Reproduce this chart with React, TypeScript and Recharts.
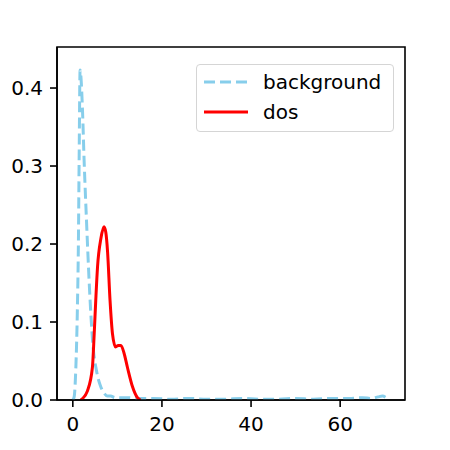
import { LineChart, Line, XAxis, YAxis, ReferenceArea } from "recharts";

// values
const backgroundX = [0, 0.3, 0.67, 1.0, 1.25, 1.42, 1.63, 2.17, 2.53, 3.07, 3.65, 4.03, 4.55, 5.3, 6.27, 7.0, 7.77, 8.5, 9.5, 12, 15, 18, 22, 26, 30, 34, 38, 42, 46, 50, 54, 58, 62, 65, 67, 68.5, 69.5, 70.3, 71];
const backgroundY = [0, 0.004, 0.04, 0.11, 0.2, 0.31, 0.423, 0.372, 0.308, 0.23, 0.154, 0.112, 0.068, 0.038, 0.017, 0.009, 0.005, 0.005, 0.003, 0.003, 0.002, 0.002, 0.001, 0.002, 0.001, 0.001, 0.002, 0.001, 0.001, 0.002, 0.001, 0.002, 0.002, 0.003, 0.002, 0.004, 0.005, 0.003, 0];
const dosX = [1.8, 3.3, 4.4, 4.8, 5.15, 5.55, 6.3, 7.0, 7.4, 7.8, 8.35, 8.9, 9.6, 10.2, 10.8, 11.5, 12.25, 13.4, 14.5, 15.2];
const dosY = [0, 0.012, 0.042, 0.085, 0.128, 0.171, 0.207, 0.222, 0.215, 0.19, 0.128, 0.085, 0.068, 0.07, 0.07, 0.06, 0.042, 0.017, 0.003, 0];

const xTicks = [0, 20, 40, 60];
const yTicks = [0, 0.1, 0.2, 0.3, 0.4];
const xDomain = [-3.55, 74.55];
const yDomain = [0, 0.4526];

const background = backgroundX.map((x, i) => ({ x, y: backgroundY[i] }));
const dos = dosX.map((x, i) => ({ x, y: dosY[i] }));

const FONT = "DejaVu Sans";
const axisStyle = { stroke: "#000", strokeWidth: 1.6 };

function LegendBox() {
  return (
    <div
      style={{
        position: "absolute",
        left: 196,
        top: 64,
        width: 198,
        height: 68,
        border: "1.5px solid #d5d5d5",
        borderRadius: 4,
        background: "rgba(255,255,255,0.8)",
        fontFamily: FONT,
        fontSize: 20,
        color: "#000",
        boxSizing: "border-box",
      }}
    >
      <div style={{ display: "flex", alignItems: "center", height: 30, marginTop: 2 }}>
        <svg width={60} height={10} style={{ marginLeft: 6 }}>
          <line x1={1} y1={5} x2={45} y2={5} stroke="#87ceeb" strokeWidth={3} strokeDasharray="11 5" />
        </svg>
        <span>background</span>
      </div>
      <div style={{ display: "flex", alignItems: "center", height: 30 }}>
        <svg width={60} height={10} style={{ marginLeft: 6 }}>
          <line x1={1} y1={5} x2={45} y2={5} stroke="#ff0000" strokeWidth={3} />
        </svg>
        <span>dos</span>
      </div>
    </div>
  );
}

export default function App() {
  return (
    <div style={{ position: "absolute", left: 0, top: 0, width: 450, height: 450, background: "#fff" }}>
      <LineChart width={450} height={450} margin={{ top: 47, right: 45, bottom: 0, left: 0 }}>
        <XAxis
          dataKey="x"
          type="number"
          domain={xDomain}
          ticks={xTicks}
          allowDataOverflow
          height={50}
          tickSize={7}
          tickMargin={10}
          axisLine={axisStyle}
          tickLine={axisStyle}
          tick={{ fill: "#000", fontSize: 20, fontFamily: FONT }}
        />
        <YAxis
          type="number"
          domain={yDomain}
          ticks={yTicks}
          allowDataOverflow
          width={57}
          tickSize={7}
          tickMargin={7}
          tickFormatter={(v: number) => v.toFixed(1)}
          axisLine={axisStyle}
          tickLine={axisStyle}
          tick={{ fill: "#000", fontSize: 20, fontFamily: FONT }}
        />
        <ReferenceArea
          x1={xDomain[0]}
          x2={xDomain[1]}
          y1={yDomain[0]}
          y2={yDomain[1]}
          fill="none"
          stroke="#000"
          strokeWidth={1.6}
          ifOverflow="visible"
        />
        <Line
          data={background}
          dataKey="y"
          type="monotone"
          stroke="#87ceeb"
          strokeWidth={3}
          strokeDasharray="11 5"
          dot={false}
          isAnimationActive={false}
        />
        <Line
          data={dos}
          dataKey="y"
          type="monotone"
          stroke="#ff0000"
          strokeWidth={3}
          dot={false}
          isAnimationActive={false}
        />
      </LineChart>
      <LegendBox />
    </div>
  );
}
